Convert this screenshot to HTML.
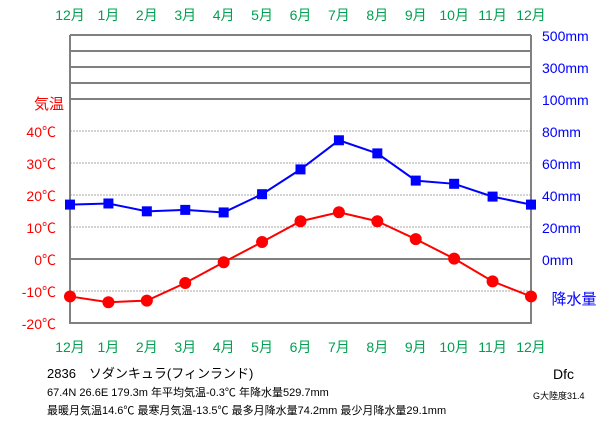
<!DOCTYPE html>
<html><head><meta charset="utf-8"><style>
body{margin:0;background:#fff;width:611px;height:425px;overflow:hidden}
svg{font-family:"Liberation Sans","Noto Sans CJK JP",sans-serif}
</style></head><body>
<svg id="c" width="611" height="425">
<g id="grid"></g><g id="marks"></g><g id="labels"></g>
<text x="49" y="109" fill="#f00" font-size="15" text-anchor="middle">気温</text>
<text x="574" y="304" fill="#00f" font-size="15" text-anchor="middle">降水量</text>
<text x="47" y="378" font-size="13">2836　ソダンキュラ(フィンランド)</text>
<text x="47" y="396" font-size="11">67.4N  26.6E  179.3m 年平均気温-0.3℃  年降水量529.7mm</text>
<text x="47" y="414" font-size="11">最暖月気温14.6℃ 最寒月気温-13.5℃ 最多月降水量74.2mm 最少月降水量29.1mm</text>
<text x="553" y="379" font-size="14">Dfc</text>
<text x="533" y="399" font-size="9">G大陸度31.4</text>
</svg>
<script>
const months=["12月","1月","2月","3月","4月","5月","6月","7月","8月","9月","10月","11月","12月"];
const temps=[-11.7,-13.5,-13.0,-7.5,-1.0,5.3,11.8,14.6,11.8,6.2,0.1,-7.0,-11.7];
const precip=[34.0,34.7,29.8,30.7,29.1,40.5,56.0,74.2,66.0,49.0,47.0,39.0,34.0];
const tempTicks=[40,30,20,10,0,-10,-20];
const precipTicks=[80,60,40,20,0];
const upperTicks=["500mm","300mm","100mm"];
const NS="http://www.w3.org/2000/svg";
const L=70,R=531,T=35;
const xs=i=>L+i*(R-L)/12;
const yT=t=>259-t*3.2;
const yP=p=>259-p*1.6;
function mk(tag,a,parent,txt){const e=document.createElementNS(NS,tag);for(const k in a)e.setAttribute(k,a[k]);if(txt!=null)e.textContent=txt;document.getElementById(parent).appendChild(e);return e;}
for(let i=0;i<5;i++){const e=mk('line',{x1:L,x2:R,y1:T+i*16,y2:T+i*16,stroke:'#808080','stroke-width':2},'grid');

}
tempTicks.forEach(t=>{const y=yT(t);if(t===-20)return;
const e=mk('line',{x1:L,x2:R,y1:y,y2:y,stroke:t===0?'#808080':'#aaa','stroke-width':t===0?2:1,'stroke-dasharray':t===0?'':'2,1'},'grid');

});
const fr=mk('path',{d:`M${L} ${T}V323H${R}V${T}`,fill:'none',stroke:'#808080','stroke-width':2},'grid');


tempTicks.forEach(t=>{const e=mk('text',{x:56,y:yT(t)+6,fill:'#f00','font-size':14,'text-anchor':'end'},'labels',t+'℃');

});
precipTicks.forEach(p=>{const e=mk('text',{x:542,y:yP(p)+6,fill:'#00f','font-size':14},'labels',p+'mm');

});
upperTicks.forEach((s,i)=>{const e=mk('text',{x:542,y:T+i*32+6,fill:'#00f','font-size':14},'labels',s);

});
months.forEach((m,i)=>{[20,352].forEach(y=>{const e=mk('text',{x:xs(i),y:y,fill:'#00a050','font-size':14,'text-anchor':'middle'},'labels',m);

});});
const pl=mk('polyline',{points:precip.map((p,i)=>xs(i)+','+yP(p)).join(' '),fill:'none',stroke:'#00f','stroke-width':2},'marks');


const tl=mk('polyline',{points:temps.map((t,i)=>xs(i)+','+yT(t)).join(' '),fill:'none',stroke:'#f00','stroke-width':2},'marks');


precip.forEach((p,i)=>{const e=mk('rect',{x:xs(i)-5,y:yP(p)-5,width:10,height:10,fill:'#00f'},'marks');

});
temps.forEach((t,i)=>{const e=mk('circle',{cx:xs(i),cy:yT(t),r:6,fill:'#f00'},'marks');

});
</script>
</body></html>
